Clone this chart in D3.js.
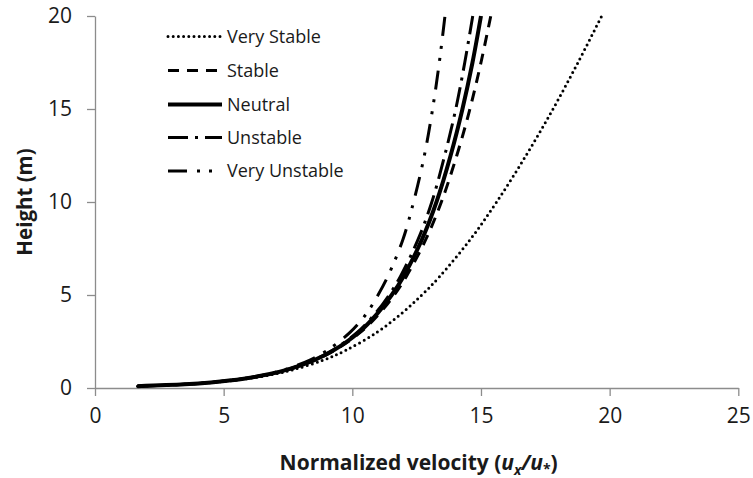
<!DOCTYPE html>
<html>
<head>
<meta charset="utf-8">
<script src="https://cdn.jsdelivr.net/npm/d3@7/dist/d3.min.js"></script>
<style>
  html, body { margin: 0; padding: 0; background: #fff; }
  svg { display: block; }
  text { font-family: "Open Sans", "DejaVu Sans", sans-serif; fill: #1a1a1a; }
</style>
</head>
<body>
<svg id="chart" width="753" height="478"></svg>
<script>
// Heights (m) at which the wind profiles are sampled
const heights = [0.1, 0.2, 0.3, 0.5, 0.75, 1, 1.5, 2, 3, 4, 5, 6, 8, 10, 12.5, 15, 17.5, 20];

// Normalized velocity u_x/u_* for each stability class
const veryStable   = [1.65, 3.54, 4.57, 5.90, 6.97, 7.74, 8.87, 9.71, 10.96, 11.91, 12.70, 13.40, 14.59, 15.61, 16.75, 17.80, 18.77, 19.69];
const stable       = [1.65, 3.49, 4.51, 5.79, 6.80, 7.53, 8.55, 9.28, 10.32, 11.05, 11.63, 12.10, 12.86, 13.46, 14.06, 14.57, 15.00, 15.38];
const neutral      = [1.65, 3.49, 4.50, 5.78, 6.79, 7.51, 8.52, 9.24, 10.26, 10.97, 11.53, 11.99, 12.71, 13.27, 13.82, 14.28, 14.67, 15.00];
const unstable     = [1.65, 3.49, 4.50, 5.77, 6.78, 7.49, 8.49, 9.20, 10.20, 10.89, 11.43, 11.87, 12.56, 13.09, 13.59, 14.02, 14.37, 14.68];
const veryUnstable = [1.65, 3.48, 4.49, 5.73, 6.72, 7.40, 8.35, 9.00, 9.92, 10.55, 11.00, 11.38, 11.97, 12.38, 12.80, 13.12, 13.38, 13.60];

const seriesNames = ["Very Stable", "Stable", "Neutral", "Unstable", "Very Unstable"];
const xTicks = [0, 5, 10, 15, 20, 25];
const yTicks = [0, 5, 10, 15, 20];

// Line styles per stability class
const styles = {
  "Very Stable":   { width: 3,   dash: "0 5.2", cap: "round" },
  "Stable":        { width: 3,   dash: "11 8",  cap: "butt" },
  "Neutral":       { width: 4,   dash: null,    cap: "butt" },
  "Unstable":      { width: 3,   dash: "20 7 3 7", cap: "butt" },
  "Very Unstable": { width: 3,   dash: "19 10 3 9 3 10", cap: "butt" }
};

const seriesValues = [veryStable, stable, neutral, unstable, veryUnstable];
const series = seriesNames.map((name, i) => ({
  name,
  points: heights.map((h, j) => ({ h, u: seriesValues[i][j] }))
}));

const svg = d3.select("#chart");
const plot = { left: 95, right: 738.3, top: 16, bottom: 388 };

const x = d3.scaleLinear().domain([0, 25]).range([plot.left, plot.right]);
const y = d3.scaleLinear().domain([0, 20]).range([plot.bottom, plot.top]);

const axisColor = "#8c8c8c";

// X axis
const gx = svg.append("g")
  .attr("transform", `translate(0,${plot.bottom})`)
  .call(d3.axisBottom(x).tickValues(xTicks).tickSize(8).tickPadding(12).tickSizeOuter(0));
gx.select(".domain").attr("stroke", axisColor).attr("stroke-width", 1.3);
gx.selectAll(".tick line").attr("stroke", axisColor).attr("stroke-width", 1.3);
gx.selectAll(".tick text")
  .attr("font-family", "'Open Sans', sans-serif")
  .attr("font-size", 21).attr("fill", "#1a1a1a");

// Y axis
const gy = svg.append("g")
  .attr("transform", `translate(${plot.left},0)`)
  .call(d3.axisLeft(y).tickValues(yTicks).tickSize(8).tickPadding(15).tickSizeOuter(0));
gy.select(".domain").attr("stroke", axisColor).attr("stroke-width", 1.3);
gy.selectAll(".tick line").attr("stroke", axisColor).attr("stroke-width", 1.3);
gy.selectAll(".tick text")
  .attr("font-family", "'Open Sans', sans-serif")
  .attr("font-size", 21).attr("fill", "#1a1a1a");

// Profiles
const line = d3.line()
  .x(d => x(d.u))
  .y(d => y(d.h))
  .curve(d3.curveCatmullRom.alpha(0.5));

svg.append("g").selectAll("path")
  .data(series)
  .join("path")
  .attr("d", d => line(d.points))
  .attr("fill", "none")
  .attr("stroke", "#000")
  .attr("stroke-width", d => styles[d.name].width)
  .attr("stroke-dasharray", d => styles[d.name].dash)
  .attr("stroke-linecap", d => styles[d.name].cap);

// Legend
const legend = svg.append("g");
const legendRows = [36.5, 70.5, 104.5, 137.5, 171];
series.forEach((s, i) => {
  const row = legend.append("g").attr("transform", `translate(0,${legendRows[i]})`);
  const st = styles[s.name];
  row.append("line")
    .attr("x1", 168).attr("x2", 222).attr("y1", 0).attr("y2", 0)
    .attr("stroke", "#000")
    .attr("stroke-width", st.width)
    .attr("stroke-dasharray", st.dash)
    .attr("stroke-linecap", st.cap);
  row.append("text")
    .attr("x", 227).attr("y", 0)
    .attr("dy", "0.35em")
    .attr("font-size", 18)
    .text(s.name);
});

// Axis titles
const xTitle = svg.append("text")
  .attr("x", (plot.left + plot.right) / 2 + 2)
  .attr("y", 470)
  .attr("text-anchor", "middle")
  .attr("font-size", 21)
  .attr("font-weight", "bold");
xTitle.append("tspan").text("Normalized velocity (");
xTitle.append("tspan").attr("font-style", "italic").text("u");
xTitle.append("tspan").attr("font-style", "italic").attr("font-size", 14).attr("dy", 5).text("x");
xTitle.append("tspan").attr("font-style", "italic").attr("dy", -5).text("/u");
xTitle.append("tspan").attr("font-size", 14).attr("dy", 4).text("*");
xTitle.append("tspan").attr("dy", -4).text(")");

svg.append("text")
  .attr("transform", `translate(32,${(plot.top + plot.bottom) / 2}) rotate(-90)`)
  .attr("text-anchor", "middle")
  .attr("font-size", 20.5)
  .attr("font-weight", "bold")
  .text("Height (m)");
</script>
</body>
</html>
